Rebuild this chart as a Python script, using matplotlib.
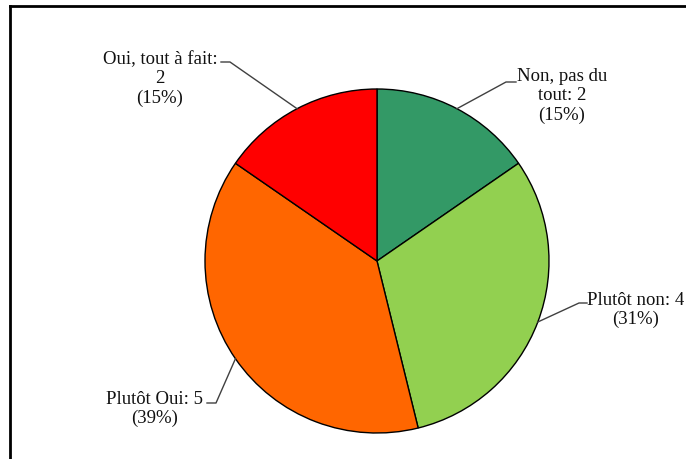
import matplotlib.pyplot as plt
import numpy as np

labels = ["Non, pas du\ntout: 2\n(15%)", "Plutôt non: 4\n(31%)",
          "Plutôt Oui: 5\n(39%)", "Oui, tout à fait:\n2\n(15%)"]
counts = [2, 4, 5, 2]
colors = ["#339966", "#92D050", "#FF6600", "#FF0000"]

plt.rcParams['font.family'] = ['Liberation Serif', 'DejaVu Serif']

W, H = 686, 459
fig = plt.figure(figsize=(W / 100, H / 100), dpi=100)
ax = fig.add_axes([0, 0, 1, 1])

cx, cy, r = 377, H - 261, 172
wedges, _ = ax.pie(counts, colors=colors, startangle=90, counterclock=False,
                   center=(cx, cy), radius=r, frame=True,
                   wedgeprops=dict(edgecolor='black', linewidth=1.0))
ax.set_xlim(0, W)
ax.set_ylim(0, H)
ax.set_aspect('equal')
ax.axis('off')

# text centre, leader elbow and horizontal stub end (pixel coords from top)
text_pos = [(562, 96), (636, 310), (155, 409), (160, 79)]
elbows = [(506, 82), (579, 303), (216, 403), (230, 62)]
stubs = [(516, 82), (587, 303), (207, 403), (221, 62)]

for w, lab, tp, el, st in zip(wedges, labels, text_pos, elbows, stubs):
    mid = np.deg2rad((w.theta1 + w.theta2) / 2)
    ex, ey = cx + r * np.cos(mid), cy + r * np.sin(mid)
    ax.plot([ex, el[0], st[0]], [ey, H - el[1], H - st[1]],
            color='#404040', lw=1.0, zorder=1)
    ax.text(tp[0], H - tp[1], lab, ha='center', va='center',
            fontsize=13.5, linespacing=1.2, color='#111111')

# outer frame: top and left rules
fig.add_artist(plt.Line2D([9.5 / W, 1], [1 - 5.5 / H, 1 - 5.5 / H],
                          transform=fig.transFigure, color='black', lw=2))
fig.add_artist(plt.Line2D([10 / W, 10 / W], [0, 1 - 5.5 / H],
                          transform=fig.transFigure, color='black', lw=2))

fig.savefig("out.png", dpi=100)
